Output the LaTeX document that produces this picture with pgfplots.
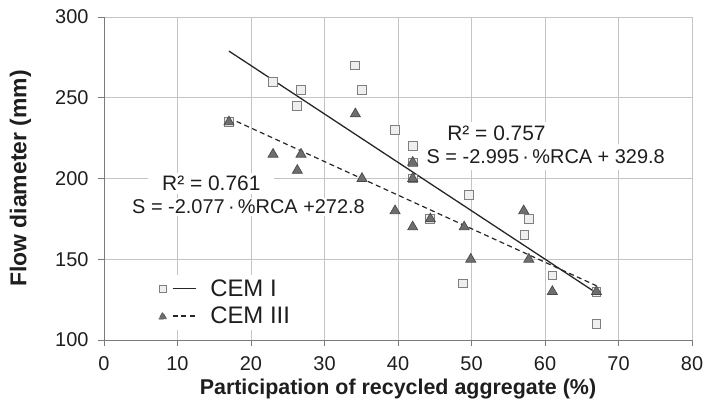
\documentclass[border=0pt]{standalone}
\usepackage{pgfplots}
\pgfplotsset{compat=1.18}
\usepackage{fontspec}
\setmainfont{Liberation Sans}
\definecolor{gridc}{HTML}{C4C4C4}
\definecolor{axc}{HTML}{7A7A7A}
\definecolor{sqfill}{HTML}{EFEFEF}
\definecolor{sqdraw}{HTML}{7F7F7F}
\definecolor{trfill}{HTML}{6E6E6E}
\definecolor{trdraw}{HTML}{4A4A4A}
\definecolor{txt}{HTML}{1E1E1E}
\begin{document}
\begin{tikzpicture}
\begin{axis}[
  scale only axis, width=588bp, height=323bp,
  xmin=0, xmax=80, ymin=100, ymax=300,
  xtick={0,10,...,80}, ytick={100,150,...,300},
  axis x line=bottom, axis y line=left,
  axis line style={draw=axc, line width=1pt, -},
  tick align=outside, major tick length=6bp,
  tick style={draw=axc, line width=0.8pt},
  grid=major, major grid style={draw=gridc, line width=1pt},
  /pgf/number format/assume math mode=true,
  ticklabel style={font=\fontsize{20}{24}\selectfont, text=txt},
  xticklabel style={yshift=-7bp},
  yticklabel style={xshift=-6bp},
  xlabel={Participation of recycled aggregate (\%)},
  ylabel={Flow diameter (mm)},
  xlabel style={font=\bfseries\fontsize{21.5}{25}\selectfont, text=txt, at={(axis description cs:0.5,-0.152)}, anchor=center},
  ylabel style={font=\bfseries\fontsize{23}{27}\selectfont, text=txt, at={(axis description cs:-0.142,0.5)}, rotate=0, anchor=center},
  legend style={at={(axis description cs:0.082,0.03)}, anchor=south west, draw=none, fill=white,
    font=\fontsize{24}{28}\selectfont, text=txt, row sep=5bp, inner xsep=6bp, inner ysep=3bp,
    /tikz/every odd column/.append style={column sep=12bp}},
  legend cell align=left,
  clip=false,
]
% CEM I squares
\addplot[only marks, mark=square*, mark size=4.4bp, mark options={fill=sqfill, draw=sqdraw, line width=0.9pt}, forget plot]
coordinates {(17,235) (23,260) (26.2,245) (26.8,255) (34.1,270) (35.1,255) (39.6,230) (42,220) (42,210) (42,200)
 (44.4,175) (49.7,190) (48.8,135) (57.2,165) (57.8,175) (61,140) (67,110) (67,130)};
% CEM III triangles
\addplot[only marks, mark=triangle*, mark size=5.8bp, mark options={fill=trfill, draw=trdraw, line width=0.7pt}, forget plot]
coordinates {(17,235) (23,215) (26.8,215) (26.3,205) (34.2,240) (35.1,200) (39.6,180) (42,210) (42,200) (42,170)
 (44.4,175) (49,170) (49.9,150) (57.1,180) (57.8,150) (61,130) (67,130)};
% trend lines
\addplot[draw=black!85, line width=1.3pt, mark=none,
  legend image code/.code={
    \draw[draw=black!85, line width=1.2pt] (10bp,0bp) -- (33bp,0bp);
    \draw[fill=sqfill, draw=sqdraw, line width=0.8pt] (-3.5bp,-3.5bp) rectangle (3.5bp,3.5bp);
  }]
coordinates {(17,278.9) (67,129.1)};
\addlegendentry{CEM I}
\addplot[draw=black!85, line width=1.2pt, mark=none, dash pattern=on 5bp off 3.5bp,
  legend image code/.code={
    \draw[draw=black!85, line width=1.1pt, dash pattern=on 5bp off 3.5bp] (10bp,0bp) -- (33bp,0bp);
    \fill[fill=trfill, draw=trdraw, line width=0.5pt] (-4bp,-3bp) -- (4bp,-3bp) -- (0bp,4bp) -- cycle;
  }]
coordinates {(17,237.5) (67,133.6)};
\addlegendentry{CEM III}
% equations
\node[fill=white, inner xsep=14bp, inner ysep=3bp, text=txt, font=\fontsize{21}{24}\selectfont] at (axis cs:14.6,197) {R² = 0.761};
\node[fill=white, inner xsep=2bp, inner ysep=2bp, text=txt, font=\fontsize{20}{24}\selectfont] at (axis cs:19.66,182.4) {S = -2.077\,·\,\%RCA +272.8};
\node[fill=white, inner xsep=14bp, inner ysep=4bp, text=txt, font=\fontsize{21}{24}\selectfont] at (axis cs:53.4,228) {R² = 0.757};
\node[fill=white, inner xsep=8bp, inner ysep=6bp, text=txt, font=\fontsize{20}{24}\selectfont] at (axis cs:60.1,213.4) {S = -2.995\,·\,\%RCA + 329.8};
\end{axis}
\pgfresetboundingbox
\path ([shift={(-104bp,-68bp)}]current axis.south west) rectangle ([shift={(13bp,17bp)}]current axis.north east);
\end{tikzpicture}
\end{document}
